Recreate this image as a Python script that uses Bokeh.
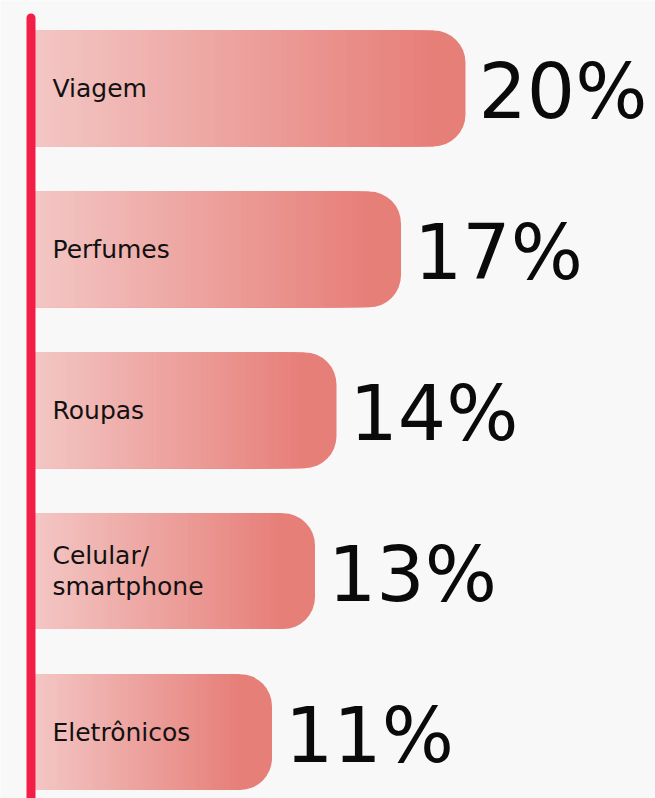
from bokeh.plotting import figure
from bokeh.models import Range1d, ColumnDataSource
from bokeh.core.properties import value
from bokeh.embed import file_html
from bokeh.resources import INLINE

categories = ["Viagem", "Perfumes", "Roupas", "Celular/\nsmartphone", "Eletrônicos"]
values = [20, 17, 14, 13, 11]
value_labels = ["20%", "17%", "14%", "13%", "11%"]

BG = "#F8F8F8"
LIGHT = (243, 199, 197)
DARK = (231, 127, 121)
BAR_H = 0.72
RADIUS_PX = 32
PX_PER_UNIT = 21.5
ROW_PX = 160.9
W, H = 655, 798

p = figure(width=W, height=H, output_backend="svg", toolbar_location=None,
           x_range=Range1d(-35 / PX_PER_UNIT, (W - 35) / PX_PER_UNIT),
           y_range=Range1d((H - 88) / ROW_PX, -88 / ROW_PX), min_border=0)
p.axis.visible = False
p.grid.visible = False
p.outline_line_color = None
p.background_fill_color = BG
p.border_fill_color = BG

ys = list(range(len(categories)))


def hexc(c):
    return "#%02x%02x%02x" % tuple(int(round(v)) for v in c)


# base rounded bars in the darkest colour
p.hbar(y=ys, left=0, right=values, height=BAR_H, fill_color=hexc(DARK),
       line_color=None, border_radius=(0, RADIUS_PX, RADIUS_PX, 0))

# horizontal gradient: nested quads, widest (darkest) drawn first
N = 60
r_units = RADIUS_PX / PX_PER_UNIT
lefts, rights, tops, bottoms, colors = [], [], [], [], []
for k in range(N, 0, -1):
    t = k / N
    c = hexc(tuple(LIGHT[j] + (DARK[j] - LIGHT[j]) * t for j in range(3)))
    for y, v in zip(ys, values):
        lefts.append(0)
        rights.append((v - r_units) * k / N)
        tops.append(y - BAR_H / 2)
        bottoms.append(y + BAR_H / 2)
        colors.append(c)
p.quad(left=lefts, right=rights, top=tops, bottom=bottoms, fill_color=colors, line_color=None)

# vertical accent line
p.line(x=[-4.5 / PX_PER_UNIT] * 2, y=[-0.438, 4.6], line_color="#F21E48", line_width=9,
       line_cap="round")

src = ColumnDataSource(dict(y=ys, v=values, cat=categories, lab=value_labels))
p.text(x=0, y="y", text="cat", source=src, x_offset=17, text_baseline="middle",
       text_font=value("DejaVu Sans"), text_font_size="25px", text_color="#111111",
       text_line_height=1.08)
p.text(x="v", y="y", text="lab", source=src, x_offset=13, y_offset=3,
       text_baseline="middle", text_font=value("DejaVu Sans"), text_font_size="76px",
       text_color="#0A0A0A")

open("out.html", "w").write(file_html(p, INLINE))
